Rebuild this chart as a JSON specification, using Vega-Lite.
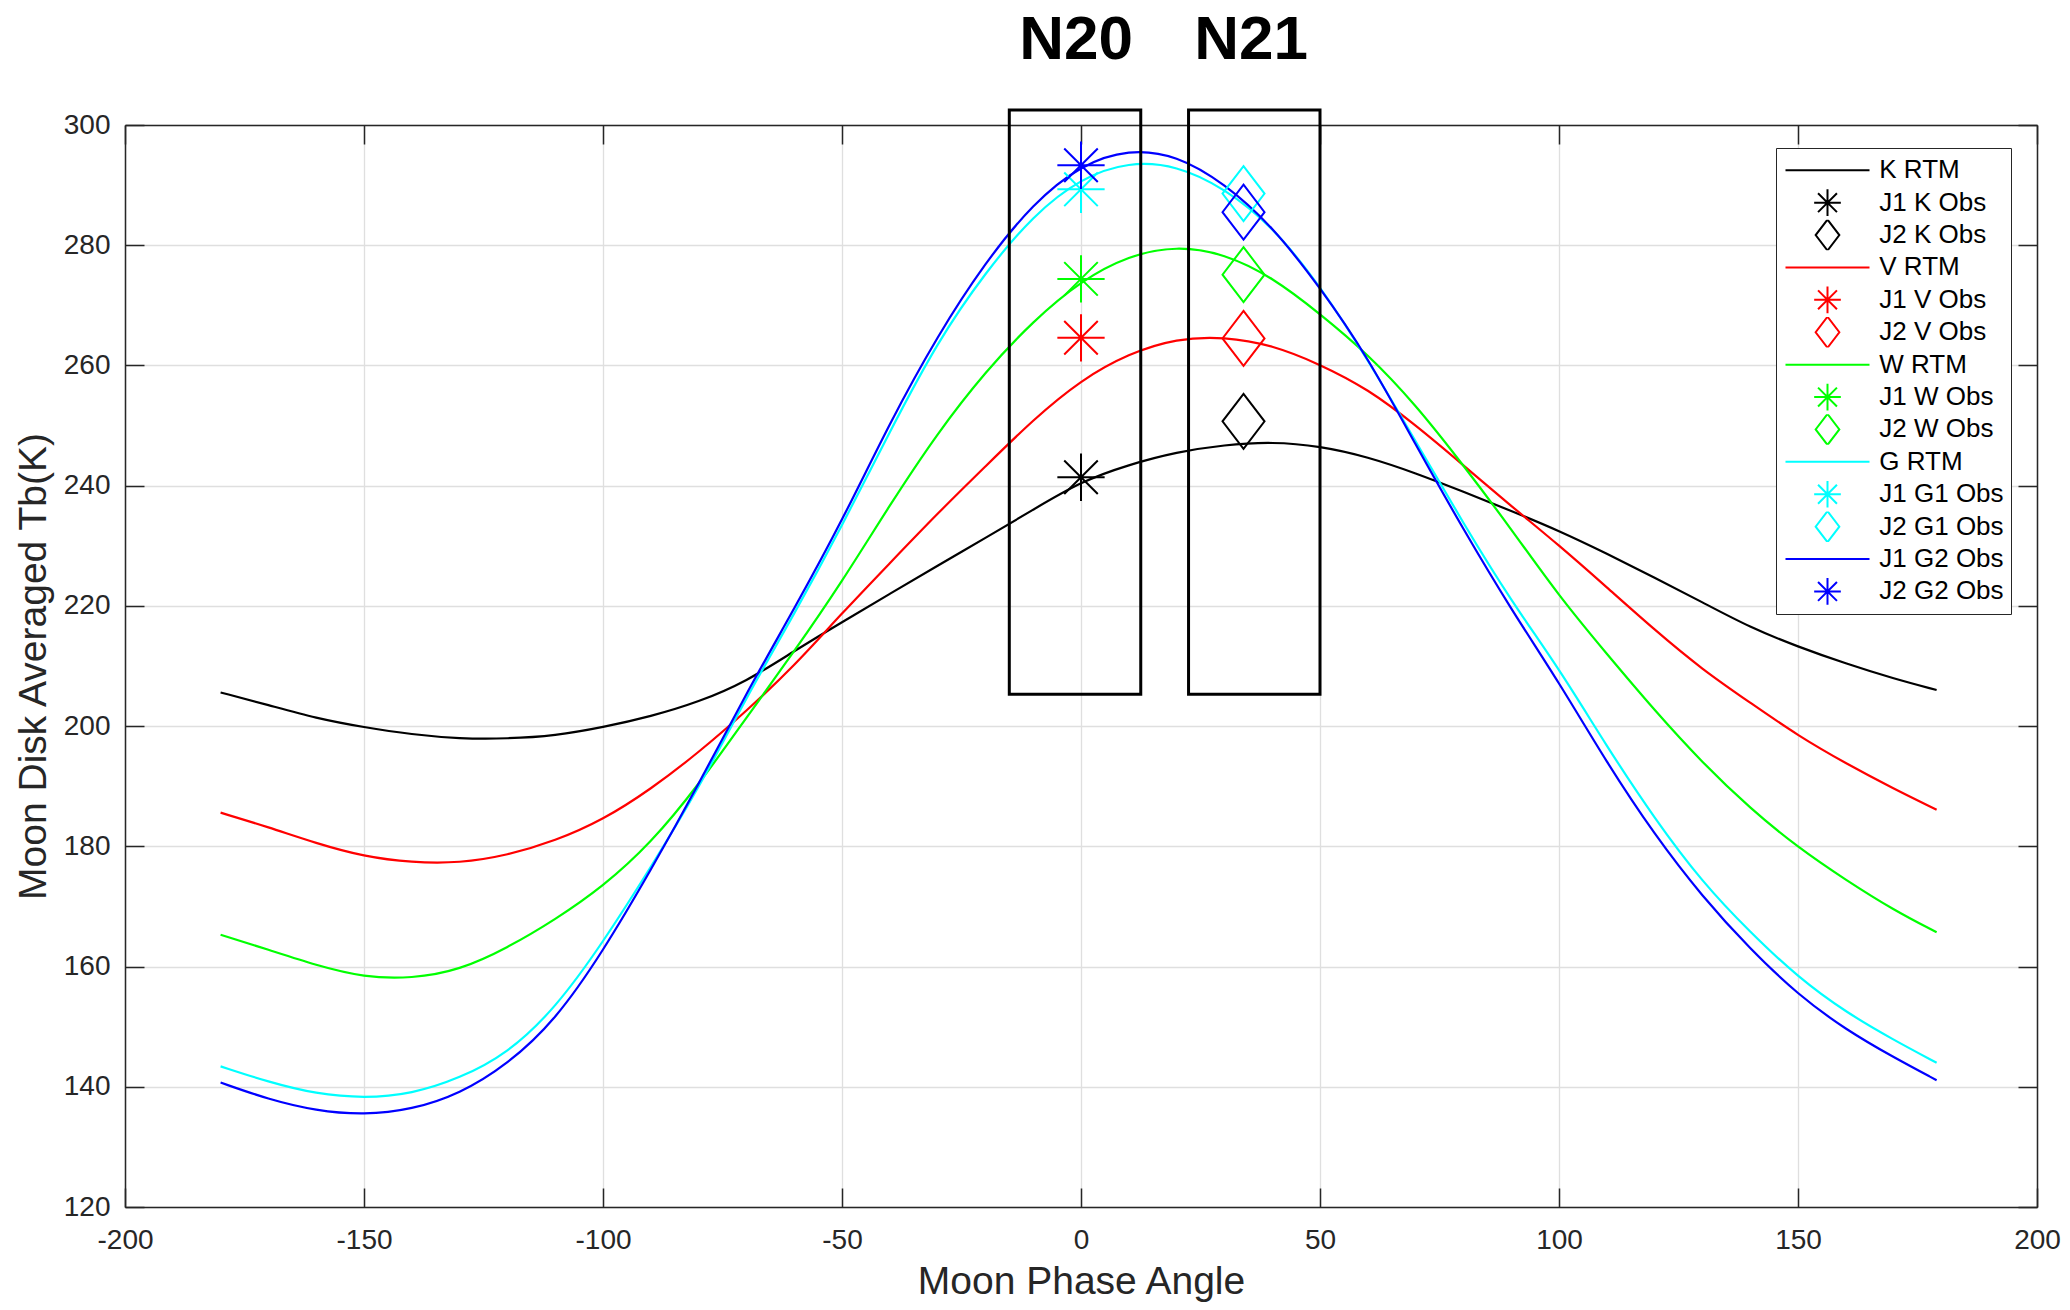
{
  "$schema": "https://vega.github.io/schema/vega-lite/v6.json",
  "width": 1912,
  "height": 1082,
  "autosize": "none",
  "padding": {"left": 125, "top": 125, "right": 33, "bottom": 103},
  "background": "white",
  "config": {
    "view": {"stroke": null},
    "font": "Liberation Sans",
    "axis": {
      "labelFont": "Liberation Sans", "titleFont": "Liberation Sans",
      "labelColor": "#262626", "titleColor": "#262626",
      "domainColor": "#262626", "tickColor": "#262626",
      "domainWidth": 1.5, "tickWidth": 1.5, "tickSize": -19,
      "labelFlush": false, "labelOverlap": false, "titleFontWeight": "normal",
      "labelExpr": "'' + datum.value"
    },
    "legend": {
      "orient": "none", "legendX": 1651, "legendY": 23,
      "fillColor": "white", "strokeColor": "#262626",
      "padding": 7, "labelFont": "Liberation Sans", "labelFontSize": 26,
      "labelColor": "black", "symbolSize": 961, "symbolStrokeWidth": 2,
      "symbolFillColor": "transparent", "rowPadding": 1.4, "clipHeight": 30.5,
      "symbolOffset": 28, "labelOffset": 35.3,
      "labelLimit": 400, "direction": "vertical"
    }
  },
  "datasets": {
    "curves": [
      {"series":"K RTM","x":-180,"y":205.6},{"series":"K RTM","x":-170,"y":203.5},{"series":"K RTM","x":-160,"y":201.3},{"series":"K RTM","x":-150,"y":199.8},{"series":"K RTM","x":-140,"y":198.6},{"series":"K RTM","x":-130,"y":197.9},{"series":"K RTM","x":-120,"y":197.9},{"series":"K RTM","x":-110,"y":198.4},{"series":"K RTM","x":-100,"y":199.8},{"series":"K RTM","x":-90,"y":201.6},{"series":"K RTM","x":-80,"y":204.0},{"series":"K RTM","x":-70,"y":207.4},{"series":"K RTM","x":-60,"y":212.5},{"series":"K RTM","x":-50,"y":217.3},{"series":"K RTM","x":-40,"y":222.0},{"series":"K RTM","x":-30,"y":226.7},{"series":"K RTM","x":-20,"y":231.3},{"series":"K RTM","x":-10,"y":236.0},{"series":"K RTM","x":0,"y":240.7},{"series":"K RTM","x":10,"y":243.5},{"series":"K RTM","x":20,"y":245.6},{"series":"K RTM","x":30,"y":246.8},{"series":"K RTM","x":40,"y":247.3},{"series":"K RTM","x":50,"y":246.6},{"series":"K RTM","x":60,"y":244.8},{"series":"K RTM","x":70,"y":242.1},{"series":"K RTM","x":80,"y":239.0},{"series":"K RTM","x":90,"y":235.8},{"series":"K RTM","x":100,"y":232.5},{"series":"K RTM","x":110,"y":228.7},{"series":"K RTM","x":120,"y":224.7},{"series":"K RTM","x":130,"y":220.6},{"series":"K RTM","x":140,"y":216.4},{"series":"K RTM","x":150,"y":213.2},{"series":"K RTM","x":160,"y":210.4},{"series":"K RTM","x":170,"y":207.9},{"series":"K RTM","x":179,"y":206.0},
      {"series":"V RTM","x":-180,"y":185.6},{"series":"V RTM","x":-170,"y":183.2},{"series":"V RTM","x":-160,"y":180.5},{"series":"V RTM","x":-150,"y":178.3},{"series":"V RTM","x":-140,"y":177.3},{"series":"V RTM","x":-130,"y":177.2},{"series":"V RTM","x":-120,"y":178.5},{"series":"V RTM","x":-110,"y":180.9},{"series":"V RTM","x":-100,"y":184.4},{"series":"V RTM","x":-90,"y":189.5},{"series":"V RTM","x":-80,"y":195.6},{"series":"V RTM","x":-70,"y":202.5},{"series":"V RTM","x":-60,"y":210.0},{"series":"V RTM","x":-50,"y":218.8},{"series":"V RTM","x":-40,"y":227.1},{"series":"V RTM","x":-30,"y":235.4},{"series":"V RTM","x":-20,"y":243.2},{"series":"V RTM","x":-10,"y":251.0},{"series":"V RTM","x":0,"y":257.6},{"series":"V RTM","x":10,"y":262.0},{"series":"V RTM","x":20,"y":264.5},{"series":"V RTM","x":30,"y":264.8},{"series":"V RTM","x":40,"y":263.4},{"series":"V RTM","x":50,"y":260.2},{"series":"V RTM","x":60,"y":256.1},{"series":"V RTM","x":70,"y":250.1},{"series":"V RTM","x":80,"y":243.4},{"series":"V RTM","x":90,"y":236.6},{"series":"V RTM","x":100,"y":230.1},{"series":"V RTM","x":110,"y":223.1},{"series":"V RTM","x":120,"y":216.0},{"series":"V RTM","x":130,"y":209.4},{"series":"V RTM","x":140,"y":203.9},{"series":"V RTM","x":150,"y":198.4},{"series":"V RTM","x":160,"y":193.8},{"series":"V RTM","x":170,"y":189.6},{"series":"V RTM","x":179,"y":186.1},
      {"series":"W RTM","x":-180,"y":165.3},{"series":"W RTM","x":-170,"y":162.8},{"series":"W RTM","x":-160,"y":160.2},{"series":"W RTM","x":-150,"y":158.2},{"series":"W RTM","x":-140,"y":158.0},{"series":"W RTM","x":-130,"y":159.4},{"series":"W RTM","x":-120,"y":163.1},{"series":"W RTM","x":-110,"y":167.8},{"series":"W RTM","x":-100,"y":173.3},{"series":"W RTM","x":-90,"y":180.5},{"series":"W RTM","x":-80,"y":190.2},{"series":"W RTM","x":-70,"y":201.4},{"series":"W RTM","x":-60,"y":212.4},{"series":"W RTM","x":-50,"y":224.0},{"series":"W RTM","x":-40,"y":236.8},{"series":"W RTM","x":-30,"y":248.8},{"series":"W RTM","x":-20,"y":259.0},{"series":"W RTM","x":-10,"y":267.4},{"series":"W RTM","x":0,"y":274.1},{"series":"W RTM","x":10,"y":278.3},{"series":"W RTM","x":20,"y":279.9},{"series":"W RTM","x":30,"y":278.6},{"series":"W RTM","x":40,"y":274.7},{"series":"W RTM","x":50,"y":268.6},{"series":"W RTM","x":60,"y":261.9},{"series":"W RTM","x":70,"y":253.5},{"series":"W RTM","x":80,"y":243.4},{"series":"W RTM","x":90,"y":232.8},{"series":"W RTM","x":100,"y":221.6},{"series":"W RTM","x":110,"y":212.0},{"series":"W RTM","x":120,"y":202.6},{"series":"W RTM","x":130,"y":193.9},{"series":"W RTM","x":140,"y":186.3},{"series":"W RTM","x":150,"y":179.8},{"series":"W RTM","x":160,"y":174.4},{"series":"W RTM","x":170,"y":169.4},{"series":"W RTM","x":179,"y":165.7},
      {"series":"G RTM","x":-180,"y":143.4},{"series":"G RTM","x":-170,"y":140.8},{"series":"G RTM","x":-160,"y":138.8},{"series":"G RTM","x":-150,"y":138.1},{"series":"G RTM","x":-140,"y":138.8},{"series":"G RTM","x":-130,"y":141.4},{"series":"G RTM","x":-120,"y":145.5},{"series":"G RTM","x":-110,"y":153.0},{"series":"G RTM","x":-100,"y":164.0},{"series":"G RTM","x":-90,"y":176.5},{"series":"G RTM","x":-80,"y":189.6},{"series":"G RTM","x":-70,"y":204.8},{"series":"G RTM","x":-60,"y":218.6},{"series":"G RTM","x":-50,"y":233.3},{"series":"G RTM","x":-40,"y":249.0},{"series":"G RTM","x":-30,"y":264.0},{"series":"G RTM","x":-20,"y":275.5},{"series":"G RTM","x":-10,"y":285.0},{"series":"G RTM","x":0,"y":291.2},{"series":"G RTM","x":10,"y":293.9},{"series":"G RTM","x":20,"y":293.3},{"series":"G RTM","x":30,"y":289.5},{"series":"G RTM","x":40,"y":283.2},{"series":"G RTM","x":50,"y":273.3},{"series":"G RTM","x":60,"y":261.0},{"series":"G RTM","x":70,"y":247.4},{"series":"G RTM","x":80,"y":233.7},{"series":"G RTM","x":90,"y":220.8},{"series":"G RTM","x":100,"y":209.6},{"series":"G RTM","x":110,"y":196.6},{"series":"G RTM","x":120,"y":184.6},{"series":"G RTM","x":130,"y":174.0},{"series":"G RTM","x":140,"y":165.7},{"series":"G RTM","x":150,"y":158.2},{"series":"G RTM","x":160,"y":152.4},{"series":"G RTM","x":170,"y":147.8},{"series":"G RTM","x":179,"y":144.0},
      {"series":"J1 G2 Obs","x":-180,"y":140.7},{"series":"J1 G2 Obs","x":-170,"y":137.9},{"series":"J1 G2 Obs","x":-160,"y":136.0},{"series":"J1 G2 Obs","x":-150,"y":135.3},{"series":"J1 G2 Obs","x":-140,"y":136.2},{"series":"J1 G2 Obs","x":-130,"y":138.8},{"series":"J1 G2 Obs","x":-120,"y":143.7},{"series":"J1 G2 Obs","x":-110,"y":151.0},{"series":"J1 G2 Obs","x":-100,"y":162.5},{"series":"J1 G2 Obs","x":-90,"y":176.0},{"series":"J1 G2 Obs","x":-80,"y":190.3},{"series":"J1 G2 Obs","x":-70,"y":205.5},{"series":"J1 G2 Obs","x":-60,"y":219.5},{"series":"J1 G2 Obs","x":-50,"y":234.1},{"series":"J1 G2 Obs","x":-40,"y":250.5},{"series":"J1 G2 Obs","x":-30,"y":265.0},{"series":"J1 G2 Obs","x":-20,"y":277.2},{"series":"J1 G2 Obs","x":-10,"y":287.0},{"series":"J1 G2 Obs","x":0,"y":293.4},{"series":"J1 G2 Obs","x":10,"y":296.0},{"series":"J1 G2 Obs","x":20,"y":295.0},{"series":"J1 G2 Obs","x":30,"y":290.3},{"series":"J1 G2 Obs","x":40,"y":283.2},{"series":"J1 G2 Obs","x":50,"y":273.0},{"series":"J1 G2 Obs","x":60,"y":261.4},{"series":"J1 G2 Obs","x":70,"y":246.8},{"series":"J1 G2 Obs","x":80,"y":232.7},{"series":"J1 G2 Obs","x":90,"y":219.4},{"series":"J1 G2 Obs","x":100,"y":207.3},{"series":"J1 G2 Obs","x":110,"y":193.9},{"series":"J1 G2 Obs","x":120,"y":181.9},{"series":"J1 G2 Obs","x":130,"y":171.6},{"series":"J1 G2 Obs","x":140,"y":162.9},{"series":"J1 G2 Obs","x":150,"y":155.3},{"series":"J1 G2 Obs","x":160,"y":149.5},{"series":"J1 G2 Obs","x":170,"y":144.9},{"series":"J1 G2 Obs","x":179,"y":141.1}
    ],
    "obs": [
      {"series":"J1 K Obs","x":0,"y":241.4},
      {"series":"J2 K Obs","x":34,"y":250.7},
      {"series":"J1 V Obs","x":0,"y":264.6},
      {"series":"J2 V Obs","x":34,"y":264.5},
      {"series":"J1 W Obs","x":0,"y":274.4},
      {"series":"J2 W Obs","x":34,"y":275.1},
      {"series":"J1 G1 Obs","x":0,"y":289.3},
      {"series":"J2 G1 Obs","x":34,"y":288.6},
      {"series":"J2 G2 Obs","x":0,"y":293.3}
    ],
    "extra": [
      {"series":"J2 G2 diamond","x":34,"y":285.5}
    ],
    "boxes": [
      {"name":"N20","x":-15,"x2":12.5,"y":205.3,"y2":302.5},
      {"name":"N21","x":22.5,"x2":50,"y":205.3,"y2":302.5}
    ],
    "labels": [
      {"label":"N20","x":-1,"y":310.9},
      {"label":"N21","x":35.6,"y":310.9}
    ]
  },
  "layer": [
    {
      "data": {"name": "curves"},
      "mark": {"type": "line", "strokeWidth": 2.2, "interpolate": "basis"},
      "encoding": {
        "x": {"field": "x", "type": "quantitative",
          "scale": {"domain": [-200, 200], "nice": false, "zero": false},
          "axis": {"orient": "bottom", "values": [-200,-150,-100,-50,0,50,100,150,200],
            "grid": true, "gridColor": "#dfdfdf", "gridWidth": 1.3,
            "labelFontSize": 28, "labelPadding": 38,
            "title": "Moon Phase Angle", "titleFontSize": 39, "titlePadding": 8}},
        "y": {"field": "y", "type": "quantitative",
          "scale": {"domain": [120, 300], "nice": false, "zero": false},
          "axis": {"orient": "left", "values": [120,140,160,180,200,220,240,260,280,300],
            "grid": true, "gridColor": "#dfdfdf", "gridWidth": 1.3,
            "labelFontSize": 28, "labelPadding": 34,
            "title": "Moon Disk Averaged Tb(K)", "titleFontSize": 39, "titlePadding": 10}},
        "color": {"field": "series", "type": "nominal",
          "scale": {
            "domain": ["K RTM","J1 K Obs","J2 K Obs","V RTM","J1 V Obs","J2 V Obs","W RTM","J1 W Obs","J2 W Obs","G RTM","J1 G1 Obs","J2 G1 Obs","J1 G2 Obs","J2 G2 Obs"],
            "range": ["#000000","#000000","#000000","#ff0000","#ff0000","#ff0000","#00ff00","#00ff00","#00ff00","#00ffff","#00ffff","#00ffff","#0000ff","#0000ff"]},
          "legend": {"title": null}}
      }
    },
    {
      "data": {"name": "obs"},
      "mark": {"type": "point", "filled": false, "strokeWidth": 2, "size": 3025, "opacity": 1},
      "encoding": {
        "x": {"field": "x", "type": "quantitative", "axis": null},
        "y": {"field": "y", "type": "quantitative", "axis": null},
        "color": {"field": "series", "type": "nominal",
          "scale": {
            "domain": ["K RTM","J1 K Obs","J2 K Obs","V RTM","J1 V Obs","J2 V Obs","W RTM","J1 W Obs","J2 W Obs","G RTM","J1 G1 Obs","J2 G1 Obs","J1 G2 Obs","J2 G2 Obs"],
            "range": ["#000000","#000000","#000000","#ff0000","#ff0000","#ff0000","#00ff00","#00ff00","#00ff00","#00ffff","#00ffff","#00ffff","#0000ff","#0000ff"]},
          "legend": {"title": null}},
        "shape": {"field": "series", "type": "nominal",
          "scale": {
            "domain": ["K RTM","J1 K Obs","J2 K Obs","V RTM","J1 V Obs","J2 V Obs","W RTM","J1 W Obs","J2 W Obs","G RTM","J1 G1 Obs","J2 G1 Obs","J1 G2 Obs","J2 G2 Obs"],
            "range": [
              "M-2.71,0L2.71,0",
              "M-0.86,0L0.86,0M0,-0.86L0,0.86M-0.61,-0.61L0.61,0.61M-0.61,0.61L0.61,-0.61",
              "M0,-1L0.764,0L0,1L-0.764,0Z",
              "M-2.71,0L2.71,0",
              "M-0.86,0L0.86,0M0,-0.86L0,0.86M-0.61,-0.61L0.61,0.61M-0.61,0.61L0.61,-0.61",
              "M0,-1L0.764,0L0,1L-0.764,0Z",
              "M-2.71,0L2.71,0",
              "M-0.86,0L0.86,0M0,-0.86L0,0.86M-0.61,-0.61L0.61,0.61M-0.61,0.61L0.61,-0.61",
              "M0,-1L0.764,0L0,1L-0.764,0Z",
              "M-2.71,0L2.71,0",
              "M-0.86,0L0.86,0M0,-0.86L0,0.86M-0.61,-0.61L0.61,0.61M-0.61,0.61L0.61,-0.61",
              "M0,-1L0.764,0L0,1L-0.764,0Z",
              "M-2.71,0L2.71,0",
              "M-0.86,0L0.86,0M0,-0.86L0,0.86M-0.61,-0.61L0.61,0.61M-0.61,0.61L0.61,-0.61"
            ]},
          "legend": {"title": null}}
      }
    },
    {
      "data": {"name": "extra"},
      "mark": {"type": "point", "filled": false, "strokeWidth": 2, "size": 3025, "opacity": 1,
        "stroke": "#0000ff", "shape": "M0,-1L0.764,0L0,1L-0.764,0Z"},
      "encoding": {
        "x": {"field": "x", "type": "quantitative", "axis": null},
        "y": {"field": "y", "type": "quantitative", "axis": null}
      }
    },
    {
      "data": {"name": "boxes"},
      "mark": {"type": "rect", "fill": "transparent", "stroke": "#000000", "strokeWidth": 3},
      "encoding": {
        "x": {"field": "x", "type": "quantitative",
          "axis": {"orient": "top", "values": [-200,-150,-100,-50,0,50,100,150,200],
            "labels": false, "grid": false, "title": null}},
        "x2": {"field": "x2"},
        "y": {"field": "y", "type": "quantitative",
          "axis": {"orient": "right", "values": [120,140,160,180,200,220,240,260,280,300],
            "labels": false, "grid": false, "title": null}},
        "y2": {"field": "y2"}
      }
    },
    {
      "data": {"name": "labels"},
      "mark": {"type": "text", "font": "Liberation Sans", "fontSize": 62, "fontWeight": "bold",
        "baseline": "alphabetic", "align": "center", "color": "#000000"},
      "encoding": {
        "x": {"field": "x", "type": "quantitative", "axis": null},
        "y": {"field": "y", "type": "quantitative", "axis": null},
        "text": {"field": "label"}
      }
    }
  ],
  "resolve": {"axis": {"x": "independent", "y": "independent"}}
}
